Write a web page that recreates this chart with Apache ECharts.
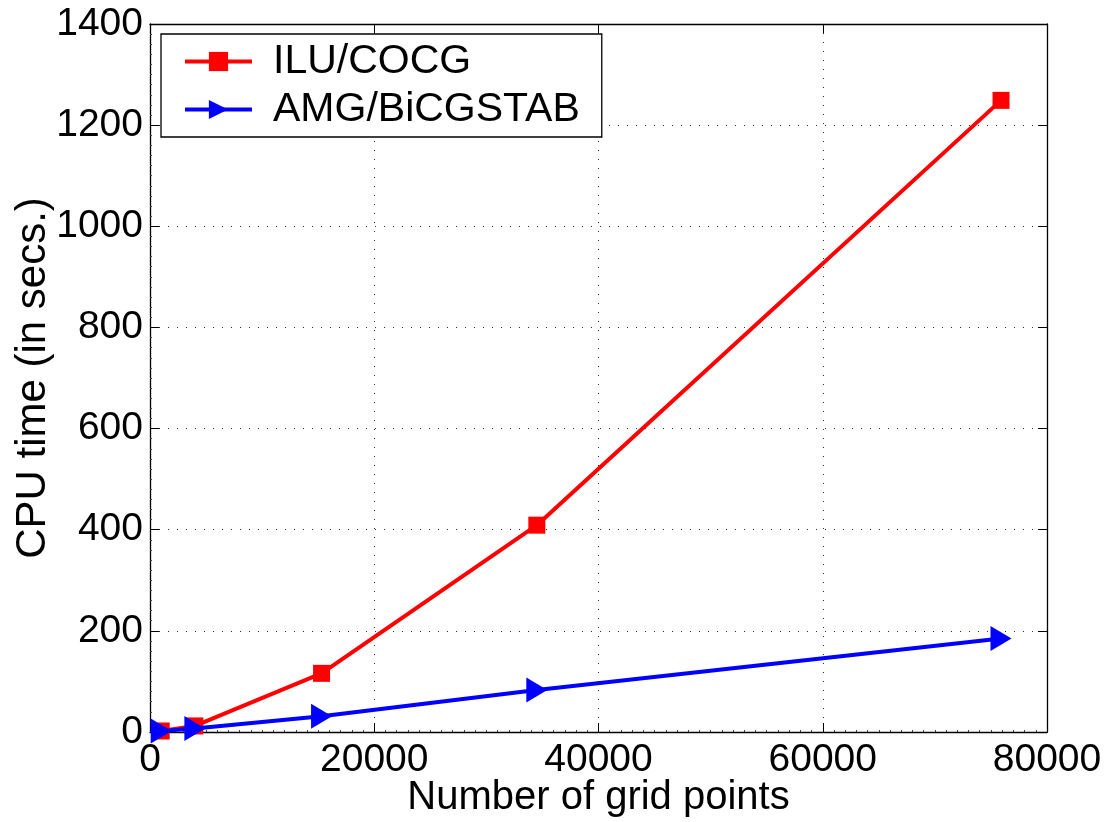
<!DOCTYPE html>
<html><head><meta charset="utf-8">
<script src="https://cdn.jsdelivr.net/npm/echarts@6/dist/echarts.min.js"></script>
<style>html,body{margin:0;background:#fff}#c{width:1107px;height:822px}</style></head>
<body><div id="c"></div>
<script>
const gridPoints = [1000, 4000, 15300, 34500, 75900];
const iluCocg = [2, 12, 116, 409, 1249];
const amgBicgstab = [2, 7, 31, 83, 185];
const seriesNames = ['ILU/COCG', 'AMG/BiCGSTAB'];
const xAxisTitle = 'Number of grid points';
const yAxisTitle = 'CPU time (in secs.)';

const FONT = '"Liberation Sans", Arial, sans-serif';
const chart = echarts.init(document.getElementById('c'), null, {renderer: 'canvas'});
const pairs = (xs, ys) => xs.map((x, i) => [x, ys[i]]);
const plain = v => String(v);
const axisCommon = {
  axisLine: {show: true, onZero: false, lineStyle: {color: '#000', width: 1.3}},
  axisTick: {show: true, inside: true, length: 9, lineStyle: {color: '#000', width: 1}},
  minorTick: {show: true, length: 2, lineStyle: {color: '#444', width: 1}}
};
chart.setOption({
  animation: false,
  backgroundColor: '#fff',
  grid: {left: 150, right: 60, top: 24, bottom: 90, containLabel: false, outerBoundsMode: 'none'},
  legend: {
    orient: 'vertical', left: 161, top: 34,
    padding: [7, 22, 7, 22], itemGap: 7,
    itemWidth: 67, itemHeight: 24,
    backgroundColor: '#fff', borderColor: '#000', borderWidth: 1.3, borderRadius: 0,
    lineStyle: {width: 4},
    textStyle: {fontFamily: FONT, fontSize: 41, color: '#000', lineHeight: 40, padding: [0, 0, 0, 16]},
    data: seriesNames
  },
  xAxis: [
    Object.assign({
      type: 'value', min: 0, max: 80000, interval: 20000, position: 'bottom',
      name: xAxisTitle, nameLocation: 'middle', nameGap: 46, nameMoveOverlap: false,
      nameTextStyle: {fontFamily: FONT, fontSize: 40, color: '#000'},
      axisLabel: {fontFamily: FONT, fontSize: 39, color: '#000', margin: 9, formatter: plain},
      splitLine: {show: true, lineStyle: {color: '#333', type: [1, 8], width: 1}}
    }, axisCommon, {minorTick: {show: true, splitNumber: 20, length: 2, lineStyle: {color: '#444'}}}),
    Object.assign({
      type: 'value', min: 0, max: 80000, interval: 20000, position: 'top',
      axisLabel: {show: false}, splitLine: {show: false}
    }, axisCommon, {minorTick: {show: false}})
  ],
  yAxis: [
    Object.assign({
      type: 'value', min: 0, max: 1400, interval: 200, position: 'left',
      name: yAxisTitle, nameLocation: 'middle', nameGap: 96, nameMoveOverlap: false,
      nameTextStyle: {fontFamily: FONT, fontSize: 42, color: '#000'},
      axisLabel: {fontFamily: FONT, fontSize: 39, color: '#000', margin: 7, formatter: plain},
      splitLine: {show: true, lineStyle: {color: '#333', type: [1, 8], width: 1}}
    }, axisCommon, {minorTick: {show: true, splitNumber: 10, length: 2, lineStyle: {color: '#444'}}}),
    Object.assign({
      type: 'value', min: 0, max: 1400, interval: 200, position: 'right',
      axisLabel: {show: false}, splitLine: {show: false}
    }, axisCommon, {minorTick: {show: false}})
  ],
  series: [
    {
      name: seriesNames[0], type: 'line', data: pairs(gridPoints, iluCocg),
      xAxisIndex: 0, yAxisIndex: 0, clip: false,
      symbol: 'rect', symbolSize: 17, showAllSymbol: true,
      lineStyle: {color: '#ff0000', width: 4},
      itemStyle: {color: '#ff0000'}, z: 3
    },
    {
      name: seriesNames[1], type: 'line', data: pairs(gridPoints, amgBicgstab),
      xAxisIndex: 0, yAxisIndex: 0, clip: false,
      symbol: 'triangle', symbolSize: [25, 21], symbolRotate: -90, showAllSymbol: true,
      lineStyle: {color: '#0000ff', width: 4},
      itemStyle: {color: '#0000ff'}, z: 4
    }
  ]
});
</script></body></html>
